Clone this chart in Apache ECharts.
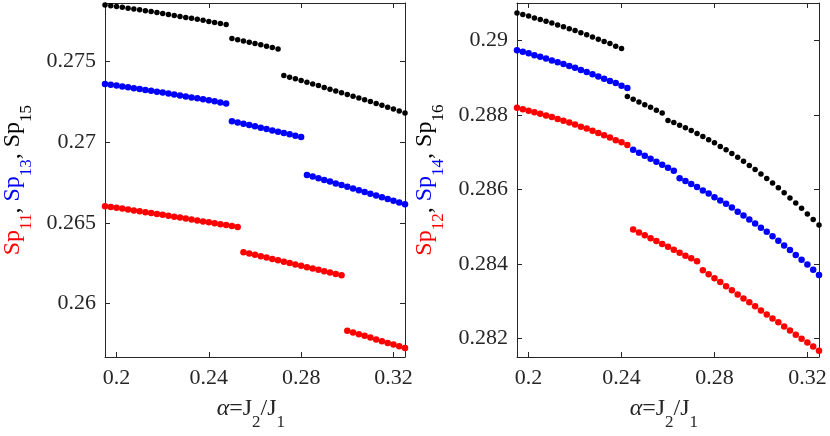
<!DOCTYPE html>
<html>
<head>
<meta charset="utf-8">
<title>Sp vs alpha</title>
<script src="https://cdn.jsdelivr.net/npm/echarts@6/dist/echarts.min.js"></script>
<style>
    html, body { margin: 0; padding: 0; background: #fff; }
    #main { width: 830px; height: 436px; }
</style>
</head>
<body>
<div id="main"></div>
<script>
// alpha = J2/J1
var alpha = [0.195, 0.1975, 0.2, 0.2025, 0.205, 0.2075, 0.21, 0.2125, 0.215, 0.2175,
    0.22, 0.2225, 0.225, 0.2275, 0.23, 0.2325, 0.235, 0.2375, 0.24, 0.2425,
    0.245, 0.2475, 0.25, 0.2525, 0.255, 0.2575, 0.26, 0.2625, 0.265, 0.2675,
    0.27, 0.2725, 0.275, 0.2775, 0.28, 0.2825, 0.285, 0.2875, 0.29, 0.2925,
    0.295, 0.2975, 0.3, 0.3025, 0.305, 0.3075, 0.31, 0.3125, 0.315, 0.3175,
    0.32, 0.3225, 0.325];

// left panel
var sp11 = [0.26603, 0.26598, 0.26593, 0.26588, 0.26583, 0.26577, 0.26572, 0.26566, 0.26561, 0.26555,
    0.26550, 0.26544, 0.26538, 0.26533, 0.26527, 0.26521, 0.26515, 0.26509, 0.26504, 0.26498,
    0.26492, 0.26486, 0.26480, 0.26474,
    0.26318, 0.26310, 0.26302, 0.26293, 0.26285, 0.26277, 0.26268, 0.26260, 0.26251, 0.26243,
    0.26235, 0.26226, 0.26218, 0.26209, 0.26201, 0.26193, 0.26184, 0.26176,
    0.25833, 0.25822, 0.25811, 0.25801, 0.25790, 0.25779, 0.25768, 0.25757, 0.25747, 0.25736, 0.25725];
var sp13 = [0.27359, 0.27354, 0.27349, 0.27344, 0.27339, 0.27333, 0.27328, 0.27322, 0.27317, 0.27311,
    0.27306, 0.27300, 0.27294, 0.27288, 0.27282, 0.27276, 0.27270, 0.27264, 0.27258, 0.27252,
    0.27245, 0.27239,
    0.27129, 0.27121, 0.27113, 0.27105, 0.27097, 0.27089, 0.27081, 0.27072, 0.27064, 0.27056,
    0.27048, 0.27039, 0.27031,
    0.26796, 0.26786, 0.26776, 0.26765, 0.26755, 0.26744, 0.26734, 0.26723, 0.26712, 0.26702,
    0.26691, 0.26680, 0.26669, 0.26658, 0.26648, 0.26637, 0.26626, 0.26615];
var sp15 = [0.27848, 0.27843, 0.27838, 0.27833, 0.27828, 0.27823, 0.27818, 0.27812, 0.27807, 0.27801,
    0.27795, 0.27789, 0.27783, 0.27777, 0.27771, 0.27765, 0.27759, 0.27753, 0.27746, 0.27740,
    0.27733, 0.27727,
    0.27641, 0.27633, 0.27625, 0.27617, 0.27609, 0.27601, 0.27593, 0.27584, 0.27576,
    0.27411, 0.27401, 0.27391, 0.27380, 0.27370, 0.27359, 0.27349, 0.27338, 0.27327, 0.27316,
    0.27305, 0.27294, 0.27283, 0.27272, 0.27261, 0.27250, 0.27238, 0.27227, 0.27215, 0.27204,
    0.27192, 0.27180];

// right panel
var sp12 = [0.28819, 0.28815, 0.28811, 0.28807, 0.28803, 0.28798, 0.28794, 0.28789, 0.28784, 0.28779,
    0.28774, 0.28768, 0.28763, 0.28757, 0.28751, 0.28745, 0.28739, 0.28732, 0.28726, 0.28719,
    0.28492, 0.28484, 0.28477, 0.28469, 0.28461, 0.28453, 0.28446, 0.28438, 0.28430, 0.28422,
    0.28415, 0.28407,
    0.28383, 0.28372, 0.28361, 0.28351, 0.28340, 0.28329, 0.28318, 0.28307, 0.28297, 0.28286,
    0.28275, 0.28264, 0.28253, 0.28243, 0.28232, 0.28221, 0.28210, 0.28199, 0.28189, 0.28178, 0.28167];
var sp14 = [0.28973, 0.28969, 0.28965, 0.28960, 0.28956, 0.28951, 0.28946, 0.28941, 0.28936, 0.28931,
    0.28926, 0.28920, 0.28915, 0.28909, 0.28903, 0.28897, 0.28891, 0.28885, 0.28878, 0.28872,
    0.28706, 0.28698, 0.28690, 0.28682, 0.28674, 0.28666, 0.28658, 0.28650,
    0.28630, 0.28622, 0.28614, 0.28606, 0.28597, 0.28589, 0.28579, 0.28570, 0.28561, 0.28551,
    0.28540, 0.28530, 0.28519, 0.28508, 0.28497, 0.28486, 0.28474, 0.28462, 0.28449, 0.28437,
    0.28424, 0.28411, 0.28398, 0.28384, 0.28370];
var sp16 = [0.29073, 0.29069, 0.29065, 0.29060, 0.29056, 0.29051, 0.29046, 0.29041, 0.29036, 0.29031,
    0.29026, 0.29020, 0.29015, 0.29009, 0.29003, 0.28997, 0.28991, 0.28984, 0.28978,
    0.28849, 0.28842, 0.28834, 0.28827, 0.28820, 0.28812, 0.28805,
    0.28785, 0.28779, 0.28772, 0.28765, 0.28758, 0.28750, 0.28742, 0.28733, 0.28725, 0.28715,
    0.28706, 0.28696, 0.28686, 0.28675, 0.28664, 0.28653, 0.28641, 0.28629, 0.28617, 0.28604,
    0.28591, 0.28577, 0.28563, 0.28549, 0.28534, 0.28519, 0.28504];

var xTicks = [0.2, 0.24, 0.28, 0.32];
var leftTicks = [0.26, 0.265, 0.27, 0.275];
var rightTicks = [0.282, 0.284, 0.286, 0.288, 0.29];

(function () {
    var myChart = echarts.init(document.getElementById('main'));
    var font = '"Liberation Serif", "Times New Roman", Times, serif';
    var ink = '#262626';
    var RED = '#ff0000', BLUE = '#0000ff', BLACK = '#000000';

    function pairs(ys) {
        return alpha.map(function (x, i) { return [x, ys[i]]; });
    }

    // normal text, subscript and an invisible strut that sets the line height
    function main(color, italic) {
        return { color: color, fontFamily: font, fontSize: 24, lineHeight: 24, verticalAlign: 'top', fontStyle: italic ? 'italic' : 'normal' };
    }
    function sub(color) {
        return { color: color, fontFamily: font, fontSize: 17, lineHeight: 17, verticalAlign: 'bottom' };
    }
    var strut = { fontSize: 1, lineHeight: 34, color: 'rgba(0,0,0,0)' };

    var xName = {
        name: '{i|α}{t|=J}{s|2}{t|/J}{s|1}{h| }',
        nameLocation: 'middle',
        nameGap: 40,
        nameTextStyle: {
            fontFamily: font,
            padding: [0, 8, 0, 0],
            rich: { i: main(ink, true), t: main(ink), s: sub(ink), h: strut }
        }
    };

    function xAxis(grid, pos) {
        var a = {
            type: 'value', gridIndex: grid, position: pos,
            min: 0.195, max: 0.325,
            splitLine: { show: false },
            axisLine: { show: true, onZero: false, lineStyle: { color: ink, width: 1 } },
            axisTick: { show: true, inside: true, length: 5, customValues: xTicks, lineStyle: { color: ink } },
            axisLabel: { show: pos === 'bottom', margin: 10, customValues: xTicks, color: ink, fontFamily: font, fontSize: 22 }
        };
        if (pos === 'bottom') {
            for (var k in xName) a[k] = xName[k];
        }
        return a;
    }

    function yAxis(grid, pos, min, max, ticks, name) {
        var a = {
            type: 'value', gridIndex: grid, position: pos,
            min: min, max: max,
            splitLine: { show: false },
            axisLine: { show: true, onZero: false, lineStyle: { color: ink, width: 1 } },
            axisTick: { show: true, inside: true, length: 5, customValues: ticks, lineStyle: { color: ink } },
            axisLabel: { show: pos === 'left', margin: 9, customValues: ticks, color: ink, fontFamily: font, fontSize: 22 }
        };
        if (name) {
            a.name = name;
            a.nameLocation = 'middle';
            a.nameRotate = 90;
            a.nameGap = 70;
            a.nameTextStyle = {
                fontFamily: font,
                rich: {
                    r: main(RED), rs: sub(RED),
                    b: main(BLUE), bs: sub(BLUE),
                    k: main(BLACK), ks: sub(BLACK),
                    h: strut
                }
            };
        }
        return a;
    }

    function dots(name, color, size, xi, yi, ys) {
        return {
            name: name, type: 'scatter',
            xAxisIndex: xi, yAxisIndex: yi,
            symbol: 'circle', symbolSize: size,
            clip: false,
            itemStyle: { color: color, opacity: 1 },
            data: pairs(ys)
        };
    }

    var option = {
        backgroundColor: '#fff',
        animation: false,
        grid: [
            { left: 103, top: 3, width: 302, height: 358 },
            { left: 517, top: 3, width: 302, height: 358 }
        ],
        xAxis: [
            xAxis(0, 'bottom'), xAxis(0, 'top'),
            xAxis(1, 'bottom'), xAxis(1, 'top')
        ],
        yAxis: [
            yAxis(0, 'left', 0.2567, 0.2786, leftTicks, '{r|Sp}{rs|11}{k|, }{b|Sp}{bs|13}{k|, }{k|Sp}{ks|15}{h| }'),
            yAxis(0, 'right', 0.2567, 0.2786, leftTicks),
            yAxis(1, 'left', 0.2815, 0.291, rightTicks, '{r|Sp}{rs|12}{k|, }{b|Sp}{bs|14}{k|, }{k|Sp}{ks|16}{h| }'),
            yAxis(1, 'right', 0.2815, 0.291, rightTicks)
        ],
        series: [
            dots('Sp11', RED, 6.5, 0, 0, sp11),
            dots('Sp13', BLUE, 6.5, 0, 0, sp13),
            dots('Sp15', BLACK, 5.5, 0, 0, sp15),
            dots('Sp12', RED, 6.5, 2, 2, sp12),
            dots('Sp14', BLUE, 6.5, 2, 2, sp14),
            dots('Sp16', BLACK, 5.5, 2, 2, sp16)
        ]
    };

    myChart.setOption(option);

    window.addEventListener('resize', function () {
        myChart.resize();
    });
})();
</script>
</body>
</html>
